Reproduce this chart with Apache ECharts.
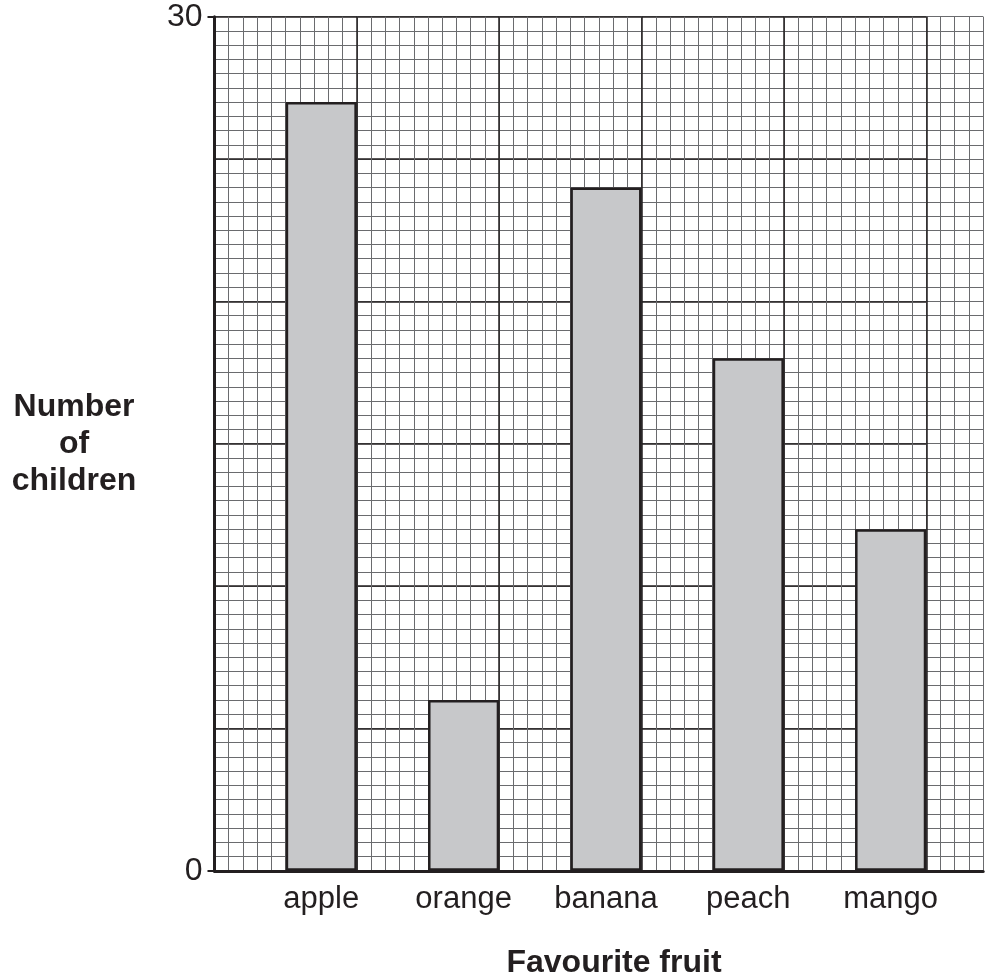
<!DOCTYPE html>
<html>
<head>
<meta charset="utf-8">
<script src="https://cdn.jsdelivr.net/npm/echarts@6/dist/echarts.min.js"></script>
<style>
html,body{margin:0;padding:0;background:#fff;}
#main{width:989px;height:979px;}
</style>
</head>
<body>
<div id="main"></div>
<script>
var fruits = ['apple', 'orange', 'banana', 'peach', 'mango'];
var children = [27, 6, 24, 18, 12];
var yLabels = [0, 30];

var ink = '#231f20';
var font = '"Liberation Sans", Arial, sans-serif';
// paper geometry: one grid square is half a child
var unit = 28.47;
var plotLeft = 214.5, plotTop = 16.7, plotH = 30 * unit;

var myChart = echarts.init(document.getElementById('main'));

function off(){ return {show: false}; }
var option = {
    animation: false,
    backgroundColor: '#fff',
    grid: [
        {left: plotLeft, top: plotTop, width: 27 * unit, height: plotH},            // fine squares
        {left: plotLeft, top: plotTop, width: 25 * unit, height: plotH},            // heavy squares
        {left: plotLeft, top: plotTop, width: 27 * unit, height: plotH},            // axes + labels
        {left: plotLeft + 1.25 * unit, top: plotTop, width: 25 * unit, height: plotH} // bars
    ],
    xAxis: [
        {gridIndex: 0, type: 'value', min: 0, max: 27, interval: 0.5,
            axisLine: off(), axisTick: off(), axisLabel: off(),
            splitLine: {show: true, lineStyle: {color: '#6a6b6e', width: 1}}},
        {gridIndex: 1, type: 'value', min: 0, max: 25, interval: 5,
            axisLine: off(), axisTick: off(), axisLabel: off(),
            splitLine: {show: true, lineStyle: {color: ink, width: 1.5}}},
        {gridIndex: 2, type: 'value', min: 0, max: 27,
            axisLine: {show: true, lineStyle: {color: ink, width: 3}},
            axisTick: off(), axisLabel: off(), splitLine: off()},
        {gridIndex: 3, type: 'category', data: fruits,
            axisLine: off(), axisTick: off(),
            axisLabel: {color: ink, fontFamily: font, fontSize: 31, margin: 13}}
    ],
    yAxis: [
        {gridIndex: 0, type: 'value', min: 0, max: 30, interval: 0.5,
            axisLine: off(), axisTick: off(), axisLabel: off(),
            splitLine: {show: true, lineStyle: {color: '#6a6b6e', width: 1}}},
        {gridIndex: 1, type: 'value', min: 0, max: 30, interval: 5,
            axisLine: off(), axisTick: off(), axisLabel: off(),
            splitLine: {show: true, lineStyle: {color: ink, width: 1.5}}},
        {gridIndex: 2, type: 'value', min: 0, max: 30, interval: 30,
            axisLine: {show: true, lineStyle: {color: ink, width: 3}},
            axisTick: {show: true, length: 7, lineStyle: {color: ink, width: 2}},
            splitLine: off(),
            axisLabel: {color: ink, fontFamily: font, fontSize: 32, margin: 12,
                formatter: function (v) { return yLabels.indexOf(v) >= 0 ? String(v) : ''; }}},
        {gridIndex: 3, type: 'value', min: 0, max: 30,
            axisLine: off(), axisTick: off(), axisLabel: off(), splitLine: off()}
    ],
    series: [
        {
            type: 'bar',
            xAxisIndex: 3,
            yAxisIndex: 3,
            data: children,
            barWidth: '50%',
            itemStyle: {color: '#c7c8ca', borderColor: ink, borderWidth: 2.5},
            z: 3
        }
    ],
    graphic: [
        {type: 'text', x: 614, y: 963, z: 10,
            style: {text: 'Favourite fruit', fill: ink, font: 'bold 32px ' + font,
                textAlign: 'center', textVerticalAlign: 'middle'}},
        {type: 'text', x: 74, y: 444, z: 10,
            style: {text: 'Number\nof\nchildren', fill: ink, font: 'bold 32px ' + font,
                lineHeight: 37, textAlign: 'center', textVerticalAlign: 'middle'}}
    ]
};
myChart.setOption(option);
</script>
</body>
</html>
